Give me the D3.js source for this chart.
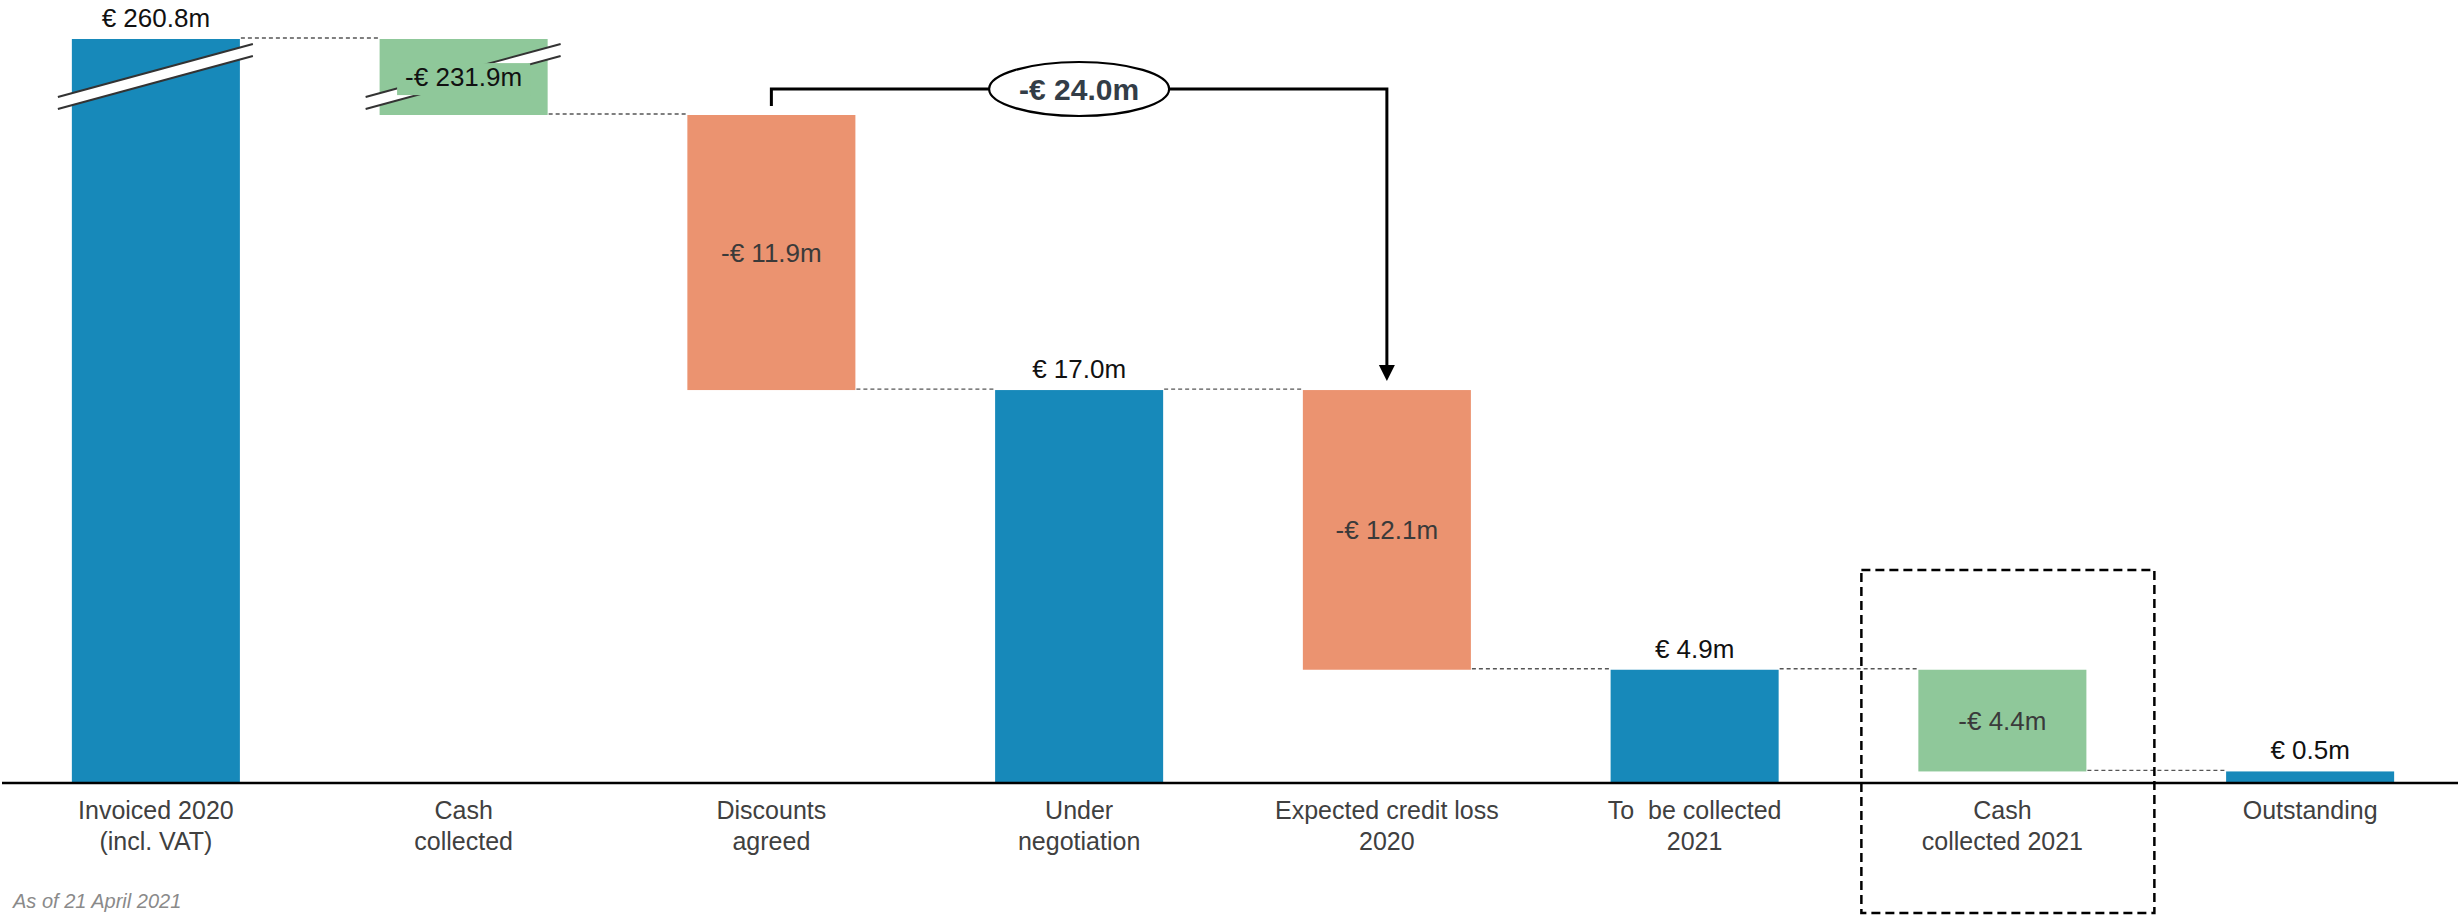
<!DOCTYPE html>
<html lang="en">

<head>
    <meta charset="UTF-8">
    <title>Receivables waterfall</title>
    <script src="https://d3js.org/d3.v7.min.js"></script>
    <style>
        body { margin: 0; background: white; }
        text { font-family: "Liberation Sans", Arial, sans-serif; }
        .cat { font-size: 25px; fill: #404040; white-space: pre; }
        .val { font-size: 26px; }
        .note { font-size: 20px; font-style: italic; fill: #8a8a8a; }
    </style>
</head>

<body>
    <svg width="2458" height="915"></svg>

    <script>
        const categories = ["Invoiced 2020\n(incl. VAT)", "Cash\ncollected", "Discounts\nagreed", "Under\nnegotiation",
            "Expected credit loss\n2020", "To  be collected\n2021", "Cash\ncollected 2021", "Outstanding"];
        const values = [260.8, -231.9, -11.9, 17.0, -12.1, 4.9, -4.4, 0.5];
        const kinds = ["total", "cash", "loss", "total", "loss", "total", "cash", "total"];

        const colors = { total: "#1789ba", cash: "#8fc89a", loss: "#eb9370" };

        const width = 2458;
        const baseY = 783;

        // running levels for the waterfall
        let level = 0;
        const data = values.map((v, i) => {
            let start, end;
            if (kinds[i] === "total") { start = 0; end = v; }
            else { start = level; end = level + v; }
            level = end;
            return { name: categories[i], value: v, kind: kinds[i], start, end };
        });

        const breakValue = values[0] + values[1]; // axis is broken above this level

        const svg = d3.select("svg");

        const x = d3.scaleBand()
            .domain(categories)
            .range([2, 2464])
            .paddingInner(0.454)
            .paddingOuter(0.227);

        // piecewise scale: the top part is squeezed (broken axis)
        const y = d3.scaleLinear()
            .domain([0, breakValue, values[0]])
            .range([baseY, 115, 39]);

        const bw = x.bandwidth();

        // dashed connectors between bars
        const links = data.slice(0, -1).map((d, i) => {
            const next = data[i + 1];
            return { x1: x(d.name) + bw, x2: x(next.name), lvl: d.end };
        });
        svg.selectAll(".link")
            .data(links)
            .enter().append("line")
            .attr("x1", d => d.x1 + 1)
            .attr("x2", d => d.x2 - 1)
            .attr("y1", d => y(d.lvl) - 1)
            .attr("y2", d => y(d.lvl) - 1)
            .attr("stroke", "#555")
            .attr("stroke-width", 1.3)
            .attr("stroke-dasharray", "4,3");

        svg.selectAll(".bar")
            .data(data)
            .enter().append("rect")
            .attr("class", "bar")
            .attr("x", d => x(d.name))
            .attr("y", d => y(Math.max(d.start, d.end)))
            .attr("width", bw)
            .attr("height", d => Math.abs(y(d.start) - y(d.end)))
            .attr("fill", d => colors[d.kind]);

        // break marks on the two bars that cross the squeezed zone
        const mid = (y(breakValue) + y(values[0])) / 2;
        [0, 1].forEach(i => {
            const x0 = x(categories[i]) - 14, x1 = x(categories[i]) + bw + 13;
            const g = svg.append("g");
            g.append("path")
                .attr("d", `M${x0},${mid + 20}L${x1},${mid - 33}L${x1},${mid - 21}L${x0},${mid + 32}Z`)
                .attr("fill", "white");
            [0, 12].forEach(o => {
                g.append("line")
                    .attr("x1", x0).attr("y1", mid + 20 + o)
                    .attr("x2", x1).attr("y2", mid - 33 + o)
                    .attr("stroke", "#333").attr("stroke-width", 2);
            });
        });

        // value labels
        data.forEach(d => {
            const cx = x(d.name) + bw / 2;
            if (d.kind === "total") {
                svg.append("text")
                    .attr("class", "val")
                    .attr("x", cx)
                    .attr("y", y(d.end) - 12)
                    .attr("text-anchor", "middle")
                    .attr("fill", "#111")
                    .text(`€ ${d.value.toFixed(1)}m`);
            } else {
                const cy = (y(d.start) + y(d.end)) / 2;
                const t = svg.append("text")
                    .attr("class", "val")
                    .attr("x", cx)
                    .attr("y", cy)
                    .attr("dy", "0.35em")
                    .attr("text-anchor", "middle")
                    .attr("fill", d.start > breakValue ? "#111" : "#3a3a3a")
                    .text(`-€ ${Math.abs(d.value).toFixed(1)}m`);
                if (d.start > breakValue) {
                    // green patch behind the label so the break marks don't run through it
                    const b = t.node().getBBox();
                    svg.insert("rect", () => t.node())
                        .attr("x", b.x - 8).attr("y", b.y + 1)
                        .attr("width", b.width + 16).attr("height", b.height + 2)
                        .attr("fill", colors[d.kind]);
                }
            }
        });

        // x axis
        const xAxis = d3.axisBottom(x).tickSize(0).tickPadding(0);
        const ax = svg.append("g")
            .attr("transform", `translate(0, ${baseY})`)
            .call(xAxis);
        ax.select(".domain")
            .attr("d", `M2,0H${width}`)
            .attr("stroke", "black")
            .attr("stroke-width", 2.5);
        ax.selectAll(".tick text")
            .attr("class", "cat")
            .attr("fill", null)
            .attr("font-size", null)
            .attr("font-family", null)
            .attr("dy", null)
            .attr("y", 0)
            .each(function (d) {
                const t = d3.select(this).text("");
                d.split("\n").forEach((line, k) => {
                    t.append("tspan")
                        .attr("x", 0)
                        .attr("y", 36 + k * 31)
                        .text(line);
                });
            });

        // bracket with total of the two losses
        const iA = 2, iB = 4;
        const xa = x(categories[iA]) + bw / 2;
        const xb = x(categories[iB]) + bw / 2;
        const topY = 89;
        const lossSum = Math.abs(values[iA] + values[iB]);
        svg.append("path")
            .attr("d", `M${xa},${y(data[iA].start) - 9}V${topY}H${xb}V${y(data[iB].start) - 24}`)
            .attr("fill", "none")
            .attr("stroke", "black")
            .attr("stroke-width", 3);
        svg.append("path")
            .attr("d", `M${xb - 8},${y(data[iB].start) - 25}L${xb + 8},${y(data[iB].start) - 25}L${xb},${y(data[iB].start) - 9}Z`)
            .attr("fill", "black");
        const ecx = x(categories[3]) + bw / 2;
        svg.append("ellipse")
            .attr("cx", ecx).attr("cy", topY)
            .attr("rx", 90).attr("ry", 27)
            .attr("fill", "white")
            .attr("stroke", "black")
            .attr("stroke-width", 2.2);
        svg.append("text")
            .attr("x", ecx).attr("y", topY)
            .attr("dy", "0.36em")
            .attr("text-anchor", "middle")
            .attr("font-size", 30)
            .attr("font-weight", "bold")
            .attr("fill", "#333d47")
            .text(`-€ ${lossSum.toFixed(1)}m`);

        // dashed box around cash collected 2021
        const bx = x(categories[6]) + bw / 2;
        svg.append("rect")
            .attr("x", bx - 141)
            .attr("y", 570)
            .attr("width", 293)
            .attr("height", 343)
            .attr("fill", "none")
            .attr("stroke", "black")
            .attr("stroke-width", 2.5)
            .attr("stroke-dasharray", "9,5");

        svg.append("text")
            .attr("class", "note")
            .attr("x", 13)
            .attr("y", 908)
            .text("As of 21 April 2021");
    </script>
</body>

</html>
